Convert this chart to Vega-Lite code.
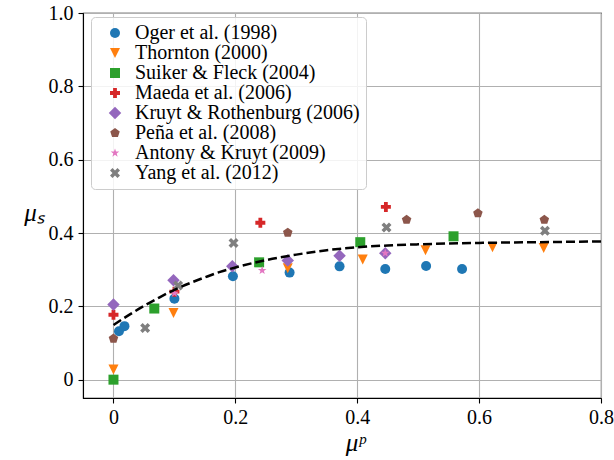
{
  "$schema": "https://vega.github.io/schema/vega-lite/v6.json",
  "width": 518,
  "height": 385,
  "autosize": {"type": "none"},
  "padding": {"left": 83, "top": 13, "right": 13, "bottom": 62},
  "background": "white",
  "view": {"stroke": "black", "strokeWidth": 1.1},
  "datasets": {
    "pts": [
      {"series": "Oger et al. (1998)", "mup": 0.009, "mus": 0.132},
      {"series": "Oger et al. (1998)", "mup": 0.018, "mus": 0.146},
      {"series": "Oger et al. (1998)", "mup": 0.1, "mus": 0.221},
      {"series": "Oger et al. (1998)", "mup": 0.196, "mus": 0.282},
      {"series": "Oger et al. (1998)", "mup": 0.289, "mus": 0.292},
      {"series": "Oger et al. (1998)", "mup": 0.371, "mus": 0.309},
      {"series": "Oger et al. (1998)", "mup": 0.446, "mus": 0.302},
      {"series": "Oger et al. (1998)", "mup": 0.513, "mus": 0.31},
      {"series": "Oger et al. (1998)", "mup": 0.572, "mus": 0.302},
      {"series": "Thornton (2000)", "mup": 0.0, "mus": 0.028},
      {"series": "Thornton (2000)", "mup": 0.0985, "mus": 0.182},
      {"series": "Thornton (2000)", "mup": 0.286, "mus": 0.304},
      {"series": "Thornton (2000)", "mup": 0.409, "mus": 0.328},
      {"series": "Thornton (2000)", "mup": 0.512, "mus": 0.353},
      {"series": "Thornton (2000)", "mup": 0.622, "mus": 0.361},
      {"series": "Thornton (2000)", "mup": 0.706, "mus": 0.359},
      {"series": "Suiker & Fleck (2004)", "mup": 0.0, "mus": 0.0},
      {"series": "Suiker & Fleck (2004)", "mup": 0.067, "mus": 0.194},
      {"series": "Suiker & Fleck (2004)", "mup": 0.239, "mus": 0.32},
      {"series": "Suiker & Fleck (2004)", "mup": 0.405, "mus": 0.375},
      {"series": "Suiker & Fleck (2004)", "mup": 0.558, "mus": 0.391},
      {"series": "Maeda et al. (2006)", "mup": 0.0, "mus": 0.177},
      {"series": "Maeda et al. (2006)", "mup": 0.1, "mus": 0.24},
      {"series": "Maeda et al. (2006)", "mup": 0.241, "mus": 0.428},
      {"series": "Maeda et al. (2006)", "mup": 0.447, "mus": 0.471},
      {"series": "Kruyt & Rothenburg (2006)", "mup": 0.0, "mus": 0.205},
      {"series": "Kruyt & Rothenburg (2006)", "mup": 0.0985, "mus": 0.271},
      {"series": "Kruyt & Rothenburg (2006)", "mup": 0.195, "mus": 0.309},
      {"series": "Kruyt & Rothenburg (2006)", "mup": 0.286, "mus": 0.325},
      {"series": "Kruyt & Rothenburg (2006)", "mup": 0.371, "mus": 0.338},
      {"series": "Kruyt & Rothenburg (2006)", "mup": 0.446, "mus": 0.345},
      {"series": "Peña et al. (2008)", "mup": 0.0, "mus": 0.112},
      {"series": "Peña et al. (2008)", "mup": 0.286, "mus": 0.401},
      {"series": "Peña et al. (2008)", "mup": 0.481, "mus": 0.436},
      {"series": "Peña et al. (2008)", "mup": 0.598, "mus": 0.454},
      {"series": "Peña et al. (2008)", "mup": 0.707, "mus": 0.436},
      {"series": "Antony & Kruyt (2009)", "mup": 0.1, "mus": 0.236},
      {"series": "Antony & Kruyt (2009)", "mup": 0.244, "mus": 0.298},
      {"series": "Antony & Kruyt (2009)", "mup": 0.446, "mus": 0.345},
      {"series": "Yang et al. (2012)", "mup": 0.052, "mus": 0.141},
      {"series": "Yang et al. (2012)", "mup": 0.106, "mus": 0.257},
      {"series": "Yang et al. (2012)", "mup": 0.197, "mus": 0.373},
      {"series": "Yang et al. (2012)", "mup": 0.448, "mus": 0.415},
      {"series": "Yang et al. (2012)", "mup": 0.708, "mus": 0.406}
    ],
    "fit": [
      {"mup": 0.0, "mus": 0.149},
      {"mup": 0.025, "mus": 0.176},
      {"mup": 0.05, "mus": 0.201},
      {"mup": 0.075, "mus": 0.224},
      {"mup": 0.1, "mus": 0.245},
      {"mup": 0.125, "mus": 0.263},
      {"mup": 0.15, "mus": 0.279},
      {"mup": 0.175, "mus": 0.294},
      {"mup": 0.2, "mus": 0.306},
      {"mup": 0.25, "mus": 0.326},
      {"mup": 0.3, "mus": 0.341},
      {"mup": 0.35, "mus": 0.353},
      {"mup": 0.4, "mus": 0.361},
      {"mup": 0.45, "mus": 0.366},
      {"mup": 0.5, "mus": 0.369},
      {"mup": 0.6, "mus": 0.373},
      {"mup": 0.7, "mus": 0.375},
      {"mup": 0.8, "mus": 0.377}
    ]
  },
  "layer": [
    {
      "data": {"name": "pts"},
      "mark": {"type": "point", "filled": true, "opacity": 1, "size": 100},
      "encoding": {
        "x": {
          "field": "mup", "type": "quantitative",
          "scale": {"domain": [-0.05, 0.8], "nice": false, "zero": false},
          "axis": {
            "values": [0, 0.2, 0.4, 0.6, 0.8],
            "labelExpr": "datum.value == 0 ? '0' : format(datum.value, '.1f')",
            "labelFont": "Liberation Serif",
            "labelFontSize": 20,
            "labelColor": "black",
            "labelPadding": 4,
            "labelFlush": false,
            "labelOverlap": false,
            "tickSize": 5,
            "tickColor": "black",
            "tickWidth": 1.1,
            "domainColor": "black",
            "domainWidth": 1.1,
            "grid": true,
            "gridColor": "#b0b0b0",
            "gridWidth": 1.1,
            "title": "μᵖ",
            "titleFont": "Liberation Serif",
            "titleFontSize": 25,
            "titleFontStyle": "italic",
            "titleFontWeight": "normal",
            "titleColor": "black",
            "titleX": 272,
            "titleY": 44,
            "titleBaseline": "middle",
            "titleAlign": "center"
          }
        },
        "y": {
          "field": "mus", "type": "quantitative",
          "scale": {"domain": [-0.05, 1.0], "nice": false, "zero": false},
          "axis": {
            "values": [0, 0.2, 0.4, 0.6, 0.8, 1.0],
            "labelExpr": "datum.value == 0 ? '0' : format(datum.value, '.1f')",
            "labelFont": "Liberation Serif",
            "labelFontSize": 20,
            "labelColor": "black",
            "labelPadding": 5,
            "labelFlush": false,
            "labelOverlap": false,
            "tickSize": 5,
            "tickColor": "black",
            "tickWidth": 1.1,
            "domainColor": "black",
            "domainWidth": 1.1,
            "grid": true,
            "gridColor": "#b0b0b0",
            "gridWidth": 1.1,
            "title": "μₛ",
            "titleFont": "Liberation Serif",
            "titleFontSize": 25,
            "titleFontStyle": "italic",
            "titleFontWeight": "normal",
            "titleColor": "black",
            "titleAngle": 0,
            "titleX": -49,
            "titleY": 199,
            "titleAlign": "center",
            "titleBaseline": "middle"
          }
        },
        "color": {
          "field": "series", "type": "nominal",
          "scale": {
            "domain": ["Oger et al. (1998)", "Thornton (2000)", "Suiker & Fleck (2004)", "Maeda et al. (2006)", "Kruyt & Rothenburg (2006)", "Peña et al. (2008)", "Antony & Kruyt (2009)", "Yang et al. (2012)"],
            "range": ["#1f77b4", "#ff7f0e", "#2ca02c", "#d62728", "#9467bd", "#8c564b", "#e377c2", "#7f7f7f"]
          },
          "legend": {
            "title": null,
            "orient": "none",
            "legendX": 8,
            "legendY": 4,
            "padding": 6,
            "fillColor": "rgba(255,255,255,0.85)",
            "strokeColor": "#cccccc",
            "cornerRadius": 4,
            "labelFont": "Liberation Serif",
            "labelFontSize": 20,
            "labelColor": "black",
            "labelLimit": 400,
            "labelOffset": 10,
            "symbolOffset": 8,
            "symbolSize": 100,
            "symbolStrokeWidth": 0,
            "rowPadding": 0
          }
        },
        "shape": {
          "field": "series", "type": "nominal",
          "scale": {
            "domain": ["Oger et al. (1998)", "Thornton (2000)", "Suiker & Fleck (2004)", "Maeda et al. (2006)", "Kruyt & Rothenburg (2006)", "Peña et al. (2008)", "Antony & Kruyt (2009)", "Yang et al. (2012)"],
            "range": [
              "circle",
              "M-1,-1L1,-1L0,1Z",
              "square",
              "M-1,-0.38H-0.38V-1H0.38V-0.38H1V0.38H0.38V1H-0.38V0.38H-1Z",
              "M0,-1.25L1.25,0L0,1.25L-1.25,0Z",
              "M0,-1L0.951,-0.309L0.588,0.809L-0.588,0.809L-0.951,-0.309Z",
              "M0,-0.9L0.21,-0.29L0.856,-0.278L0.34,0.11L0.53,0.728L0,0.36L-0.53,0.728L-0.34,0.11L-0.856,-0.278L-0.21,-0.29Z",
              "M0,-0.5L0.5,-1L1,-0.5L0.5,0L1,0.5L0.5,1L0,0.5L-0.5,1L-1,0.5L-0.5,0L-1,-0.5L-0.5,-1Z"
            ]
          },
          "legend": {"title": null}
        }
      }
    },
    {
      "data": {"name": "fit"},
      "mark": {"type": "line", "color": "black", "strokeWidth": 2.5, "strokeDash": [9, 4], "interpolate": "monotone"},
      "encoding": {
        "x": {"field": "mup", "type": "quantitative"},
        "y": {"field": "mus", "type": "quantitative"}
      }
    }
  ]
}
